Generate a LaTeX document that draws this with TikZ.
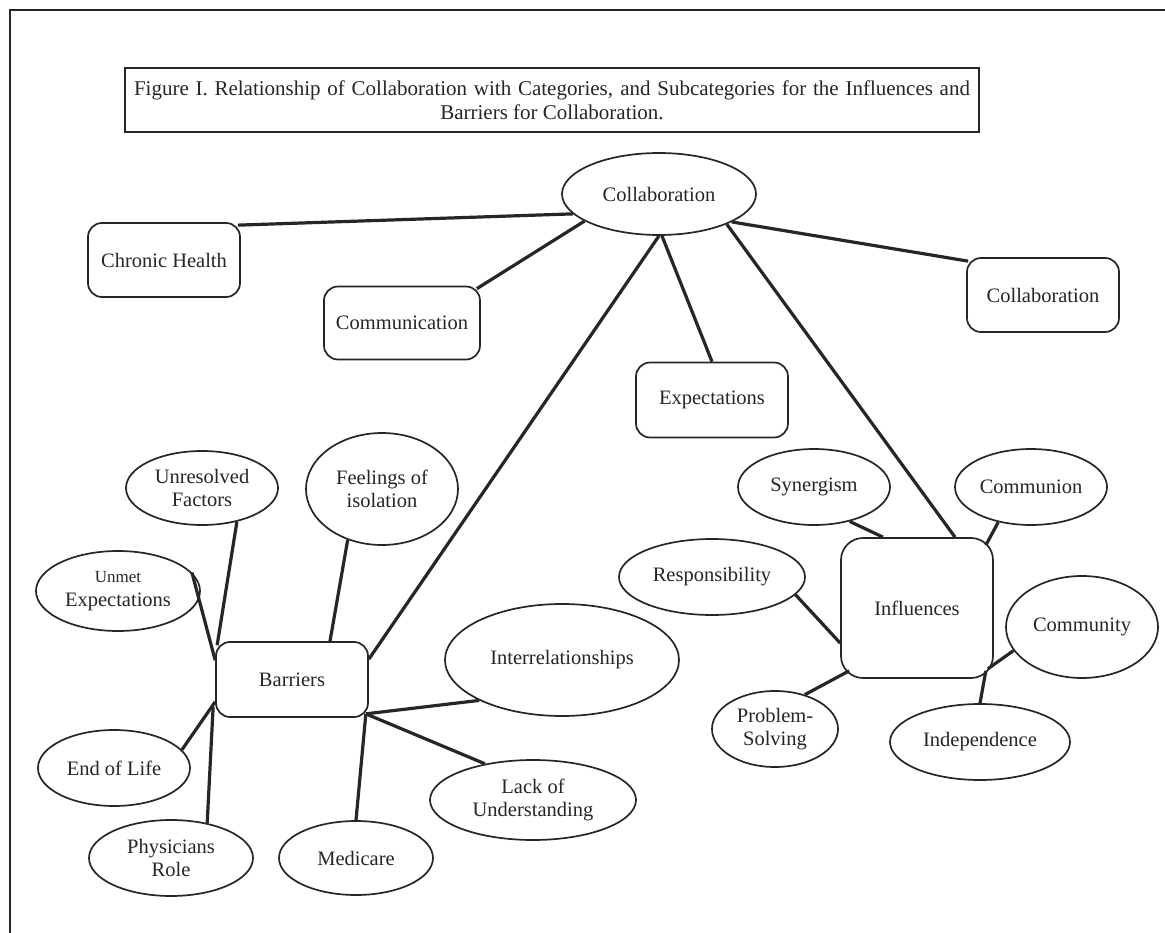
\documentclass[tikz,border=0pt]{standalone}
\usepackage{fontspec}
\setmainfont{Liberation Serif}
\usetikzlibrary{shapes.geometric}
\definecolor{ink}{HTML}{262626}
\begin{document}
\begin{tikzpicture}[x=1pt,y=-1pt,
  every node/.style={font=\fontsize{20.5}{23.5}\selectfont, text=ink},
  box/.style={draw=ink, line width=1.7pt, rounded corners=14pt, inner sep=0pt, align=center},
  oval/.style={draw=ink, ellipse, line width=1.7pt, inner sep=0pt, align=center},
  link/.style={draw=ink, line width=3.2pt},
  frame/.style={draw=ink, line width=2.5pt},
  titlebox/.style={draw=ink, line width=1.3pt, inner sep=0pt, align=center, font=\fontsize{21}{24}\selectfont}
]
\useasboundingbox (0,0) rectangle (1165,933);
\fill[white] (0,0) rectangle (1165,933);
\draw[frame] (1165,10) -- (10,10) -- (10,933);

\node[titlebox, minimum width=854pt, minimum height=64pt] (title) at (552,100)
  {\makebox[836pt][s]{Figure I. Relationship of Collaboration with Categories, and Subcategories for the Influences and}\\Barriers for Collaboration.};

% categories
\node[oval, minimum width=194pt, minimum height=82pt] (collab) at (659,194) {Collaboration};
\node[box, minimum width=152pt, minimum height=74pt] (chronic) at (164,260) {Chronic Health};
\node[box, minimum width=156pt, minimum height=73pt] (comm) at (402,323) {Communication};
\node[box, minimum width=152pt, minimum height=75pt] (expect) at (712,400) {Expectations};
\node[box, minimum width=152pt, minimum height=74pt] (collabR) at (1043,295) {Collaboration};
\node[box, minimum width=152pt, minimum height=75pt] (barriers) at (292,679.5) {Barriers};
\node[box, rounded corners=22pt, minimum width=152pt, minimum height=140pt] (infl) at (917,608) {Influences};

% barriers subcategories
\node[oval, minimum width=152pt, minimum height=74pt] (unres) at (202,488) {Unresolved\\Factors};
\node[oval, minimum width=152pt, minimum height=112pt] (feel) at (382,489) {Feelings of\\isolation};
\node[oval, minimum width=164pt, minimum height=80pt] (unmet) at (118,591) {{\fontsize{17}{23}\selectfont Unmet}\\Expectations};
\node[oval, minimum width=152pt, minimum height=76pt] (endlife) at (114,768) {End of Life};
\node[oval, minimum width=164pt, minimum height=76pt] (phys) at (171,858) {Physicians\\Role};
\node[oval, minimum width=154pt, minimum height=74pt] (medi) at (356,858) {Medicare};
\node[oval, minimum width=234pt, minimum height=112pt] (interr) at (562,660) {Interrelationships};
\node[oval, minimum width=206pt, minimum height=80pt] (lack) at (533,800) {Lack of\\Understanding};

% influences subcategories
\node[oval, minimum width=152pt, minimum height=76pt] (syn) at (814,487) {Synergism};
\node[oval, minimum width=152pt, minimum height=76pt] (commun) at (1031,487) {Communion};
\node[oval, minimum width=186pt, minimum height=76pt] (resp) at (712,577) {Responsibility};
\node[oval, minimum width=152pt, minimum height=102pt] (commy) at (1082,627) {Community};
\node[oval, minimum width=180pt, minimum height=76pt] (indep) at (980,742) {Independence};
\node[oval, minimum width=126pt, minimum height=76pt] (prob) at (775,729) {Problem-\\Solving};

% connectors from Collaboration
\draw[link] (collab.-167) -- ([xshift=-3pt,yshift=-3pt]chronic.north east);
\draw[link] (collab.-160) -- ([xshift=-4pt,yshift=-3pt]comm.north east);
\draw[link] (collab.-90) -- ([yshift=-18pt]barriers.north east);
\draw[link] (collab.-86) -- (expect.north);
\draw[link] (collab.-24) -- ([xshift=38pt]infl.north);
\draw[link] (collab.-21) -- ([xshift=2pt,yshift=-4pt]collabR.north west);

% barriers
\draw[link] (unres.-44) -- ([xshift=2pt,yshift=-4pt]barriers.north west);
\draw[link] (unmet.14) -- ([yshift=-19pt]barriers.north west);
\draw[link] (feel.-124) -- ([xshift=38pt]barriers.north);
\draw[link] (endlife.15) -- ([yshift=16pt]barriers.south west);
\draw[link] (phys.44) -- ([xshift=-2pt,yshift=11pt]barriers.south west);
\draw[link] (medi.north) -- ([xshift=-3pt,yshift=4pt]barriers.south east);
\draw[link] ([xshift=-3pt,yshift=4pt]barriers.south east) -- (interr.-154);
\draw[link] ([xshift=-3pt,yshift=4pt]barriers.south east) -- (lack.143);

% influences
\draw[link] (syn.-44) -- ([xshift=-34pt]infl.north);
\draw[link] (commun.-133) -- ([xshift=-8pt,yshift=-8pt]infl.north east);
\draw[link] (resp.-12) -- ([yshift=-35pt]infl.west);
\draw[link] (prob.49) -- ([xshift=9pt,yshift=8pt]infl.south west);
\draw[link] (commy.-161) -- ([xshift=-6pt,yshift=10pt]infl.south east);
\draw[link] (indep.north) -- ([xshift=-8pt,yshift=8pt]infl.south east);
\end{tikzpicture}
\end{document}
